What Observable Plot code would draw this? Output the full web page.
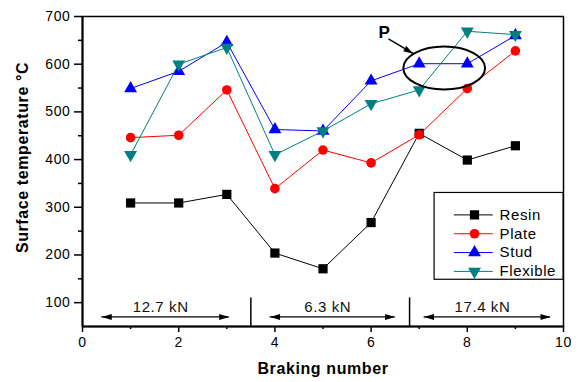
<!DOCTYPE html>
<html>
<head>
<meta charset="utf-8">
<script src="https://cdn.jsdelivr.net/npm/d3@7"></script>
<script src="https://cdn.jsdelivr.net/npm/@observablehq/plot@0.6"></script>
<style>
  html, body { margin: 0; padding: 0; background: #fff; }
  #chart { width: 580px; height: 382px; }
</style>
</head>
<body>
<div id="chart"></div>
<script>
// ---- data ----
const braking = [1, 2, 3, 4, 5, 6, 7, 8, 9];
const resin    = [309, 309, 327, 204, 171, 268, 455, 399, 429];
const plate    = [446, 451, 546, 339, 420, 393, 452, 549, 628];
const stud     = [549, 585, 646, 463, 460, 565, 601, 601, 660];
const flexible = [410, 600, 635, 410, 460, 517, 546, 669, 662];
const seriesNames = ["Resin", "Plate", "Stud", "Flexible"];
const xTicks = [0, 2, 4, 6, 8, 10];
const xMinor = [1, 3, 5, 7, 9];
const yTicks = [100, 200, 300, 400, 500, 600, 700];
const yMinor = [150, 250, 350, 450, 550, 650];
const loadLabels = ["12.7 kN", "6.3 kN", "17.4 kN"];
const loadStart = [0.4, 3.9, 7.1];
const loadEnd = [3.05, 6.5, 9.73];
const loadSeparators = [3.5, 6.8];

// ---- styles ----
const colors = {Resin: "#000000", Plate: "#ff0000", Stud: "#0000ff", Flexible: "#008080"};
const symbols = {Resin: "square", Plate: "circle", Stud: "triangle", Flexible: "triangle"};
const rotations = {Resin: 0, Plate: 0, Stud: 0, Flexible: 180};
const radii = {Resin: 5.2, Plate: 4.8, Stud: 4.8, Flexible: 4.8};

const valuesBy = {Resin: resin, Plate: plate, Stud: stud, Flexible: flexible};
const rows = seriesNames.flatMap(s => braking.map((b, i) => ({series: s, x: b, y: valuesBy[s][i]})));

// arrow-head symbol pointing right with tip at origin
const headSymbol = {
  draw(context) {
    context.moveTo(0, 0);
    context.lineTo(-10, -3);
    context.lineTo(-10, 3);
    context.closePath();
  }
};

const loads = loadLabels.map((t, i) => ({label: t, x1: loadStart[i], x2: loadEnd[i]}));
const loadY = 70, loadTextY = 90;

// legend layout (in data units)
const legendBox = {x1: 7.32, x2: 10, y1: 148, y2: 330};
const legendRows = seriesNames.map((s, i) => ({series: s, y: 284 - i * 39.5}));

// annotation P
const ell = {cx: 7.53, cy: 591, rx: 0.85, ry: 45};
const pArrow = {x1: 6.36, y1: 653, x2: 6.88, y2: 622};

function ellipseMark(...args) {
  const scales = args.find(a => a && typeof a.x === "function" && typeof a.y === "function");
  const cx = scales.x(ell.cx), cy = scales.y(ell.cy);
  const rx = Math.abs(scales.x(ell.cx + ell.rx) - cx);
  const ry = Math.abs(scales.y(ell.cy + ell.ry) - cy);
  return d3.create("svg:ellipse")
    .attr("cx", cx).attr("cy", cy).attr("rx", rx).attr("ry", ry)
    .attr("fill", "none").attr("stroke", "#000").attr("stroke-width", 2)
    .node();
}

const font = "'Liberation Sans', Arial, Helvetica, sans-serif";

const marks = [
  Plot.frame({stroke: "#000", strokeWidth: 1.5}),
  Plot.ruleX([0], {stroke: "#000", strokeWidth: 2}),
  Plot.ruleY([50], {stroke: "#000", strokeWidth: 2}),
  Plot.axisX({ticks: xTicks, tickSize: 6, tickPadding: 5, label: null, fontSize: 14, tickFormat: d => d, stroke: "#000", strokeWidth: 1.5}),
  Plot.axisX({ticks: xMinor, tickSize: 3, tickFormat: () => "", label: null, strokeWidth: 1.5}),
  Plot.axisY({ticks: yTicks, tickSize: 8, tickPadding: 4, label: null, fontSize: 14, tickFormat: d => d, strokeWidth: 1.5}),
  Plot.axisY({ticks: yMinor, tickSize: 4, tickFormat: () => "", label: null, strokeWidth: 1.5}),
  // axis titles
  Plot.text(["Surface temperature °C"], {frameAnchor: "left", textAnchor: "middle", lineAnchor: "middle", dx: -60, dy: -14, rotate: -90, fontSize: 16, fontWeight: "bold", fill: "#000"}),
  Plot.text(["Braking number"], {frameAnchor: "bottom", lineAnchor: "middle", dy: 42, fontSize: 16, fontWeight: "bold", fill: "#000"}),
  // load separators and arrows
  Plot.ruleX(loadSeparators, {y1: 50, y2: 110, stroke: "#000", strokeWidth: 1.5}),
  Plot.ruleY(loads, {x1: "x1", x2: "x2", y: () => loadY, stroke: "#000", strokeWidth: 1.2}),
  Plot.dot(loads, {x: "x2", y: () => loadY, symbol: () => headSymbol, r: 1, fill: "#000", stroke: "none"}),
  Plot.dot(loads, {x: "x1", y: () => loadY, symbol: () => headSymbol, rotate: 180, r: 1, fill: "#000", stroke: "none"}),
  Plot.text(loads, {x: d => (d.x1 + d.x2) / 2 - 0.1, y: () => loadTextY, text: "label", fontSize: 15, fill: "#111"}),
];

// series lines and markers
for (const s of seriesNames) {
  const data = rows.filter(d => d.series === s);
  marks.push(Plot.line(data, {x: "x", y: "y", stroke: colors[s], strokeWidth: 1}));
  marks.push(Plot.dot(data, {x: "x", y: "y", symbol: () => symbols[s], rotate: rotations[s], r: radii[s], fill: colors[s], stroke: "none"}));
}

// annotation P
marks.push(
  ellipseMark,
  Plot.link([pArrow], {x1: "x1", y1: "y1", x2: "x2", y2: "y2", stroke: "#000", strokeWidth: 1.5}),
  Plot.dot([pArrow], {x: "x2", y: "y2", symbol: () => headSymbol, rotate: 30, r: 1, fill: "#000", stroke: "none"}),
  Plot.text(["P"], {x: () => 6.28, y: () => 667, fontSize: 17, fontWeight: "bold", fill: "#000"})
);

// legend
marks.push(
  Plot.rect([legendBox], {x1: "x1", x2: "x2", y1: "y1", y2: "y2", fill: "#fff", stroke: "#000", strokeWidth: 1.2}),
  Plot.ruleY(legendRows, {x1: () => 7.73, x2: () => 8.54, y: "y", stroke: d => colors[d.series], strokeWidth: 1}),
  Plot.dot(legendRows, {x: () => 8.15, y: "y", symbol: d => symbols[d.series], rotate: d => rotations[d.series], r: d => radii[d.series], fill: d => colors[d.series], stroke: "none"}),
  Plot.text(legendRows, {x: () => 8.67, y: "y", text: "series", textAnchor: "start", fontSize: 15, fill: "#000"})
);

const chart = Plot.plot({
  width: 580,
  height: 382,
  marginLeft: 82,
  marginRight: 17,
  marginTop: 16,
  marginBottom: 56,
  x: {domain: [0, 10]},
  y: {domain: [50, 700]},
  symbol: {type: "identity"},
  r: {type: "identity"},
  style: {fontFamily: font, fontSize: "14px", color: "#000", background: "#fff", letterSpacing: "0.6px"},
  marks
});
document.getElementById("chart").appendChild(chart);
</script>
</body>
</html>
